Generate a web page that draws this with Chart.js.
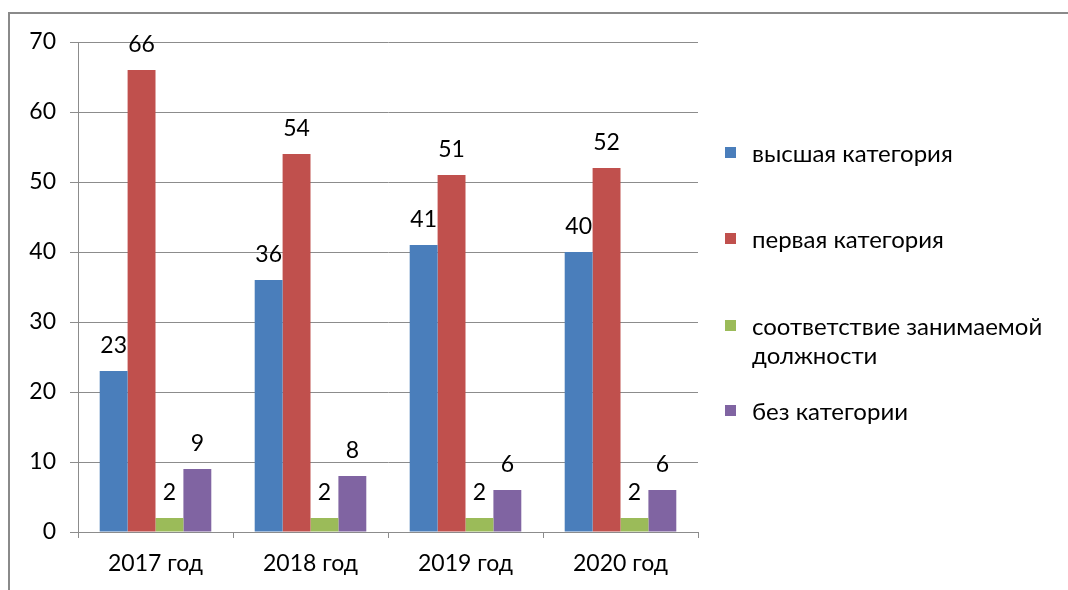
<!DOCTYPE html>
<html>
<head>
<meta charset="utf-8">
<script src="https://cdn.jsdelivr.net/npm/chart.js@4.4.0/dist/chart.umd.min.js"></script>
<style>
  html, body { margin: 0; padding: 0; background: #fff; }
  #wrap { position: relative; width: 1068px; height: 590px; overflow: hidden; }
  #frame { position: absolute; left: 8px; top: 12px; right: -4px; bottom: -4px;
           border-top: 2px solid #8a8a8a; border-left: 2px solid #8a8a8a; }
  #chart { position: absolute; left: 0; top: 0; }
  #legend { position: absolute; left: 0; top: 0; width: 1068px; height: 590px;
            font-family: Lato, "Open Sans", sans-serif; font-size: 24px; color: #000; }
  .item { position: absolute; left: 725px; white-space: pre; line-height: 29px; padding-left: 27px; }
  .box { position: absolute; left: 0; top: 9px; width: 11px; height: 11px; }
</style>
</head>
<body>
<div id="wrap">
  <div id="frame"></div>
  <canvas id="chart" width="1068" height="590"></canvas>
  <div id="legend"></div>
</div>
<script>
  // данные диаграммы
  const categories = ["2017 год", "2018 год", "2019 год", "2020 год"];
  const seriesNames = ["высшая категория", "первая категория", "соответствие занимаемой\nдолжности", "без категории"];
  const highest = [23, 36, 41, 40];
  const first = [66, 54, 51, 52];
  const matching = [2, 2, 2, 2];
  const noCategory = [9, 8, 6, 6];
  const yTicks = [0, 10, 20, 30, 40, 50, 60, 70];

  const colors = ["#4a7ebb", "#c0504d", "#9bbb59", "#8064a2"];
  const legendTops = [138, 224, 311, 396];
  const gridColor = "#8c8c8c";
  const font = { family: "Lato, 'Open Sans', sans-serif", size: 23 };

  // подписи значений над столбцами
  const valueLabels = {
    id: "valueLabels",
    afterDatasetsDraw(chart) {
      const ctx = chart.ctx;
      ctx.save();
      ctx.font = "23px Lato, 'Open Sans', sans-serif";
      ctx.fillStyle = "#000";
      ctx.textAlign = "center";
      ctx.textBaseline = "alphabetic";
      chart.data.datasets.forEach((ds, i) => {
        chart.getDatasetMeta(i).data.forEach((bar, j) => {
          ctx.fillText(ds.data[j], bar.x, bar.y - 18);
        });
      });
      ctx.restore();
    }
  };

  const allSeries = [highest, first, matching, noCategory];

  new Chart(document.querySelector("#chart"), {
    type: "bar",
    data: {
      labels: categories,
      datasets: allSeries.map((d, i) => ({
        label: seriesNames[i],
        data: d,
        backgroundColor: colors[i],
        borderWidth: 0,
        categoryPercentage: 0.72,
        barPercentage: 1
      }))
    },
    options: {
      responsive: false,
      animation: false,
      layout: { padding: { left: 0, top: 42, right: 370, bottom: 0 } },
      plugins: {
        legend: { display: false },
        tooltip: { enabled: false }
      },
      scales: {
        x: {
          grid: { display: true, drawOnChartArea: false, drawTicks: true, tickLength: 6, color: gridColor },
          border: { display: true, color: gridColor, width: 1 },
          ticks: { font: font, color: "#000", padding: 12 },
          afterFit(s) { s.height = 58; }
        },
        y: {
          min: 0,
          max: 70,
          afterBuildTicks(s) { s.ticks = yTicks.map(v => ({ value: v })); },
          grid: { color: gridColor, tickLength: 8, drawTicks: true },
          border: { display: true, color: gridColor, width: 1 },
          ticks: { font: font, color: "#000", padding: 14 },
          afterFit(s) { s.width = 78; }
        }
      }
    },
    plugins: [valueLabels]
  });

  // легенда справа
  const legend = document.getElementById("legend");
  seriesNames.forEach((name, i) => {
    const item = document.createElement("div");
    item.className = "item";
    item.style.top = legendTops[i] + "px";
    const box = document.createElement("span");
    box.className = "box";
    box.style.background = colors[i];
    item.appendChild(box);
    item.appendChild(document.createTextNode(name));
    legend.appendChild(item);
  });
</script>
</body>
</html>
